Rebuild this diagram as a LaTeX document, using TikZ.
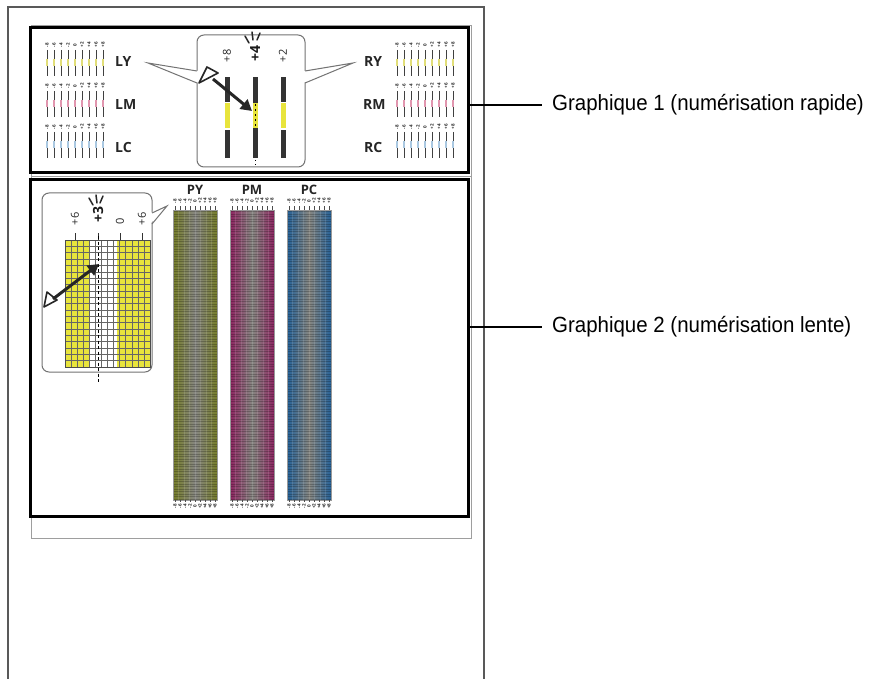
\documentclass[tikz,border=0pt]{standalone}
\usepackage{fontspec}
\setmainfont{Open Sans}
\newfontfamily\condfont[FakeStretch=0.93]{Liberation Sans}
\usetikzlibrary{arrows.meta}
\definecolor{pageline}{gray}{0.35}
\definecolor{paperline}{gray}{0.62}
\definecolor{calloutline}{gray}{0.45}
\definecolor{hiyel}{RGB}{232,228,60}
\definecolor{mixyel}{RGB}{225,222,120}
\definecolor{mixmag}{RGB}{225,150,175}
\definecolor{mixcya}{RGB}{170,200,225}
\definecolor{olivetone}{RGB}{118,125,42}
\definecolor{magtone}{RGB}{142,38,98}
\definecolor{blutone}{RGB}{38,98,152}
\definecolor{midgray}{RGB}{135,135,130}
\definecolor{barblack}{gray}{0.2}
\newcommand\minigroup[4]{%
  \foreach \i/\lab in {0/-8,1/-6,2/-4,3/-2,4/0,5/+2,6/+4,7/+6,8/+8}{
    \node[tinylabel] (#4t\i) at ({#1+7*\i},{#2}) {\lab};
    \draw[black!75,line width=0.8pt] ({#1+7*\i},{#2+5}) -- ({#1+7*\i},{#2+31});
    \draw[#3,line width=1.2pt] ({#1+7*\i},{#2+14}) -- ({#1+7*\i},{#2+21});
  }}
\newcommand\colorstrip[3]{%
  \node[inner sep=0pt,minimum width=44pt,minimum height=290pt,anchor=north west,
        left color=#2,right color=#2,middle color=midgray] (#3) at (#1,210) {};
  \foreach \yy in {211.5,214,...,499}
    \draw[black,opacity=0.22,line width=0.8pt] (#1,\yy) -- ({#1+44},\yy);
  \foreach \k in {1,...,7}
    \draw[white,opacity=0.12,line width=0.6pt] ({#1+5.5*\k},210) -- ({#1+5.5*\k},500);
  \draw[black!40,line width=0.5pt] (#3.north west) rectangle (#3.south east);
  \foreach \i/\lab in {0/-8,1/-6,2/-4,3/-2,4/0,5/+2,6/+4,7/+6,8/+8}{
    \node[tinylabel] (#3u\i) at ({#1+2+5*\i},201) {\lab};
    \node[tinylabel] (#3d\i) at ({#1+2+5*\i},506) {\lab};
    \draw[black!70,line width=0.5pt] ({#1+2+5*\i},206) -- ({#1+2+5*\i},210);
    \draw[black!70,line width=0.5pt] ({#1+2+5*\i},500) -- ({#1+2+5*\i},502);
  }}
\begin{document}
\begin{tikzpicture}[x=1pt,y=-1pt,
  framebox/.style={draw=black,line width=3pt},
  paper/.style={draw=paperline,line width=1pt},
  leader/.style={draw=black,line width=2pt},
  caption/.style={anchor=west,inner sep=0pt,font=\condfont\fontsize{22}{24}\selectfont},
  chlabel/.style={anchor=west,inner sep=0pt,font=\bfseries\fontsize{14}{14}\selectfont,text=black!85},
  striplabel/.style={inner sep=0pt,font=\bfseries\fontsize{13}{13}\selectfont,text=black!85},
  tinylabel/.style={inner sep=0pt,rotate=90,font=\bfseries\fontsize{4.5}{4.5}\selectfont,text=black!85},
  scalelabel/.style={inner sep=0pt,rotate=90,font=\fontsize{11}{11}\selectfont,text=black!85},
  bigscale/.style={inner sep=0pt,rotate=90,font=\bfseries\fontsize{14}{14}\selectfont,text=black!90},
  callout/.style={draw=calloutline,line width=1pt,fill=white,rounded corners=7pt},
  pointer/.style={draw=calloutline,line width=1pt},
  viewarrow/.style={draw=black!85,line width=3pt,-{Triangle[length=11pt,width=12pt]}},
  eye/.style={draw=black!85,line width=1.6pt,line join=round},
  spark/.style={draw=black!85,line width=1.5pt,line cap=round},
  gridline/.style={draw=black!60,line width=0.5pt},
]
\useasboundingbox (0,0) rectangle (880,679);
\fill[white] (0,0) rectangle (880,679);

% page outline
\draw[pageline,line width=1.5pt] (8,679) -- (8,7) -- (484,7) -- (484,679);
% paper sheet
\draw[paper] (31,26) rectangle (471,538);
\draw[paper] (31,177) -- (471,177);

% ---------- Graphique 1 ----------
\minigroup{47}{45}{mixyel}{ly}
\minigroup{47}{86}{mixmag}{lm}
\minigroup{47}{127}{mixcya}{lc}
\minigroup{397}{45}{mixyel}{ry}
\minigroup{397}{86}{mixmag}{rm}
\minigroup{397}{127}{mixcya}{rc}
\node[chlabel] (LY) at (115,62) {LY};
\node[chlabel] (LM) at (115,105) {LM};
\node[chlabel] (LC) at (115,147) {LC};
\node[chlabel] (RY) at (364,62) {RY};
\node[chlabel] (RM) at (363,105) {RM};
\node[chlabel] (RC) at (364,147) {RC};

% central callout
\draw[callout] (197,35) rectangle (305,167);
\fill[white] (199,71) -- (148,63) -- (199,83) -- cycle;
\draw[pointer] (197,71) -- (148,63) -- (197,83);
\fill[white] (303,71) -- (353,63) -- (303,83) -- cycle;
\draw[pointer] (305,71) -- (353,63) -- (305,83);

\foreach \bx in {227,283}{
  \fill[barblack] ({\bx-2.5},77) rectangle ({\bx+2.5},102);
  \fill[hiyel] ({\bx-2.5},103) rectangle ({\bx+2.5},128);
  \fill[barblack] ({\bx-2.5},130) rectangle ({\bx+2.5},158);
}
\fill[barblack] (252.5,77) rectangle (257.5,103);
\fill[hiyel] (252.5,103) rectangle (257.5,128);
\fill[barblack] (252.5,128) rectangle (257.5,158);
\draw[black,line width=1pt,dash pattern=on 2pt off 3pt] (255,104) -- (255,128);
\draw[black,line width=1pt,dash pattern=on 1.2pt off 3pt] (255,160) -- (255,167);

\node[scalelabel] (p8) at (227,56) {+8};
\node[bigscale] (p4) at (255,54) {+4};
\node[scalelabel] (p2) at (283,56) {+2};
\draw[spark] (245,36) -- (249,43);
\draw[spark] (252,32) -- (253,40);
\draw[spark] (260,33) -- (257,40);

\draw[eye] (199,83) -- (207,67) -- (218,73) -- cycle;
\coordinate (e1) at (213,79);
\coordinate (t1) at (252,111);
\draw[viewarrow] (e1) -- (t1);

\draw[framebox] (30,28) rectangle (468,173);

% ---------- Graphique 2 ----------
\draw[callout] (42,193) rectangle (152,372);
\fill[white] (150,213) -- (167,206) -- (150,224) -- cycle;
\draw[pointer] (152,213) -- (167,206) -- (152,224);

\fill[hiyel] (65,240) rectangle (89,367);
\fill[hiyel] (117,240) rectangle (150,367);
\fill[hiyel] (89,240) -- (90,240) -- (87,367) -- (89,367) -- cycle;
\foreach \k in {0,...,14}
  \draw[gridline] ({65+85/14*\k},240) -- ({65+85/14*\k},367);
\foreach \k in {0,...,20}
  \draw[gridline] (65,{240+127/20*\k}) -- (150,{240+127/20*\k});
\draw[black!70,line width=0.8pt] (65,240) rectangle (150,367);
\foreach \tx in {75,98,120,142}
  \draw[black!80,line width=0.8pt] (\tx,233) -- (\tx,240);
\draw[black,line width=1pt,dash pattern=on 3pt off 2.5pt] (98,236) -- (98,382);

\node[scalelabel] (m6) at (75,219) {+6};
\node[bigscale] (p3) at (98,215) {+3};
\node[scalelabel] (z0) at (120,221) {0};
\node[scalelabel] (q6) at (142,219) {+6};
\draw[spark] (89,198) -- (93,205);
\draw[spark] (96,195) -- (97,203);
\draw[spark] (103,196) -- (100,203);

\draw[eye] (44,307) -- (47,292) -- (57,300) -- cycle;
\coordinate (e2) at (53,299);
\coordinate (t2) at (99,264);
\draw[viewarrow] (e2) -- (t2);

\colorstrip{173}{olivetone}{PYs}
\colorstrip{230}{magtone}{PMs}
\colorstrip{287}{blutone}{PCs}
\node[striplabel] (PY) at (195,190) {PY};
\node[striplabel] (PM) at (252,190) {PM};
\node[striplabel] (PC) at (309,190) {PC};

\draw[framebox] (30,180) rectangle (468,516);

% ---------- captions ----------
\node[caption] (cap1) at (552,105) {Graphique 1 (numérisation rapide)};
\node[caption] (cap2) at (552,327) {Graphique 2 (numérisation lente)};
\coordinate (l1) at (468,105);
\coordinate (l2) at (468,327);
\draw[leader] (l1) -- ([xshift=-10pt]cap1.west);
\draw[leader] (l2) -- ([xshift=-10pt]cap2.west);
\end{tikzpicture}
\end{document}
